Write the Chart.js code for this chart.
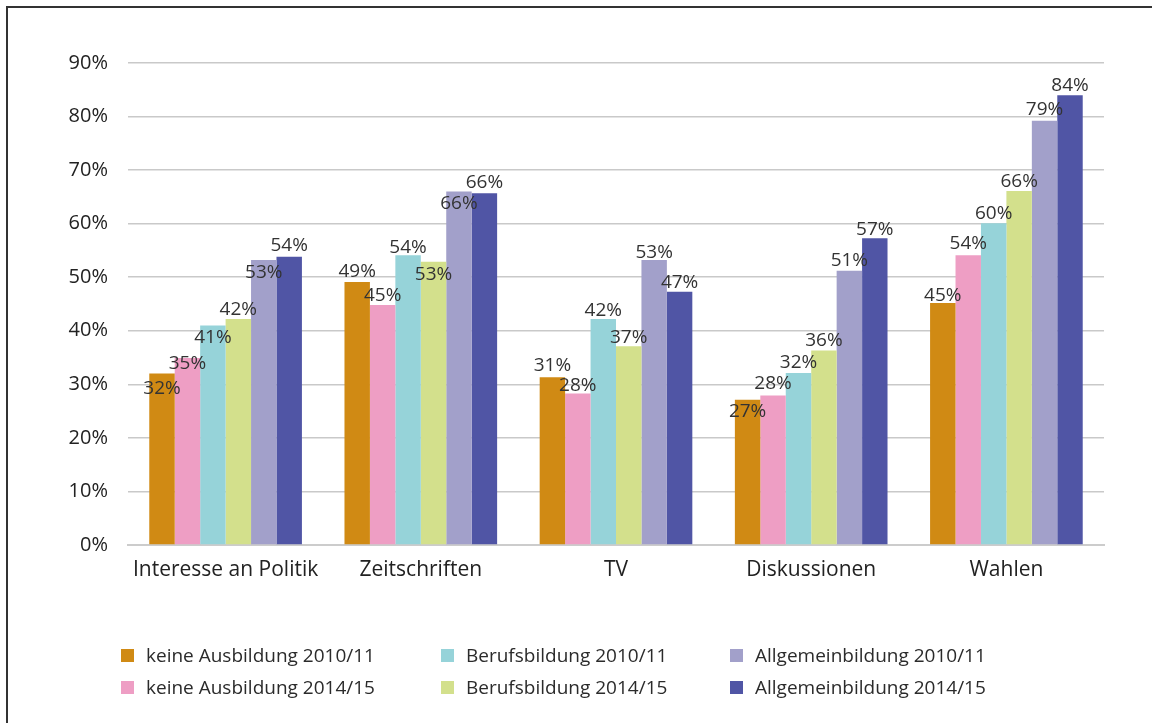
<!DOCTYPE html>
<html>
<head>
<meta charset="utf-8">
<script src="https://cdn.jsdelivr.net/npm/chart.js@4"></script>
<style>
    body { margin: 0; background: #fff; font-family: "Open Sans", sans-serif; }
    #wrap { position: relative; width: 1152px; height: 723px; overflow: hidden; }
    #frame { position: absolute; left: 6px; top: 6px; width: 1200px; height: 800px; border: 2px solid #333; }
    #legend { position: absolute; left: 121px; top: 642px; }
    .item { position: absolute; white-space: nowrap; font-size: 19px; color: #2b2b2b; line-height: 26px; }
    .item span.box { position: absolute; left: 0; top: 7px; width: 13px; height: 13px; }
    .item span.txt { position: absolute; left: 25px; top: 0; }
</style>
</head>
<body>
<div id="wrap">
    <div id="frame"></div>
    <canvas id="chart" width="1152" height="723"></canvas>
    <div id="legend"></div>
</div>
<script>
const categories = ['Interesse an Politik', 'Zeitschriften', 'TV', 'Diskussionen', 'Wahlen'];

const keine2010 = [32.0, 49.1, 31.3, 27.1, 45.2];
const keine2014 = [34.9, 44.8, 28.3, 27.9, 54.1];
const beruf2010 = [41.0, 54.1, 42.2, 32.1, 60.1];
const beruf2014 = [42.2, 52.9, 37.1, 36.3, 66.1];
const allg2010 = [53.2, 66.0, 53.2, 51.2, 79.2];
const allg2014 = [53.8, 65.7, 47.3, 57.3, 84.0];

const seriesNames = ['keine Ausbildung 2010/11', 'keine Ausbildung 2014/15', 'Berufsbildung 2010/11',
    'Berufsbildung 2014/15', 'Allgemeinbildung 2010/11', 'Allgemeinbildung 2014/15'];

const yTicks = [0, 10, 20, 30, 40, 50, 60, 70, 80, 90];

// styling
const colors = ['#D08A14', '#EE9EC4', '#96D3D9', '#D3E08C', '#A2A0CA', '#5055A5'];
// vertical offset of each value label from the bar top (px), like in the original
const labelShift = [
    [15, -10, -12, 12, -7],
    [6, -9, -8, -12, -12],
    [12, -8, -8, -10, -10],
    [-9, 13, -9, -10, -9],
    [13, 12, -7, -10, -11],
    [-11, -11, -9, -9, -10]
];

const series = [keine2010, keine2014, beruf2010, beruf2014, allg2010, allg2014];

const valueLabels = {
    id: 'valueLabels',
    afterDatasetsDraw(chart) {
        const ctx = chart.ctx;
        ctx.save();
        ctx.font = '19px "Open Sans"';
        ctx.fillStyle = '#333';
        ctx.textAlign = 'center';
        ctx.textBaseline = 'middle';
        chart.data.datasets.forEach((ds, i) => {
            chart.getDatasetMeta(i).data.forEach((bar, j) => {
                ctx.fillText(Math.round(ds.data[j]) + '%', bar.x, bar.y + labelShift[i][j]);
            });
        });
        ctx.restore();
    }
};

const chart = new Chart(document.getElementById('chart'), {
    type: 'bar',
    data: {
        labels: categories,
        datasets: series.map((s, i) => ({
            label: seriesNames[i],
            data: s,
            backgroundColor: colors[i],
            borderWidth: 0,
            categoryPercentage: 0.782,
            barPercentage: 1.0
        }))
    },
    options: {
        responsive: false,
        animation: false,
        layout: { padding: { left: 0, right: 48, top: 63, bottom: 0 } },
        plugins: { legend: { display: false }, tooltip: { enabled: false } },
        scales: {
            x: {
                grid: { display: false, drawTicks: false },
                border: { color: '#cccccc', width: 2 },
                ticks: { color: '#222', font: { family: 'Open Sans', size: 21 }, padding: 12, maxRotation: 0 },
                afterFit(scale) { scale.height = 178; }
            },
            y: {
                min: 0,
                max: 90,
                afterBuildTicks(scale) { scale.ticks = yTicks.map(v => ({ value: v })); },
                grid: { color: '#c9c9c9', lineWidth: 1.5, drawTicks: false },
                border: { display: false },
                ticks: {
                    color: '#222',
                    font: { family: 'Open Sans', size: 20 },
                    padding: 20,
                    callback: v => v + '%'
                },
                afterFit(scale) { scale.width = 128; }
            }
        }
    },
    plugins: [valueLabels]
});

// legend, column-wise like the original
const legend = document.getElementById('legend');
const colX = [0, 320, 609];
chart.data.datasets.forEach((ds, i) => {
    const item = document.createElement('div');
    item.className = 'item';
    item.style.left = colX[Math.floor(i / 2)] + 'px';
    item.style.top = (i % 2) * 32 + 'px';
    item.innerHTML = '<span class="box" style="background:' + ds.backgroundColor + '"></span><span class="txt">' + ds.label + '</span>';
    legend.appendChild(item);
});
</script>
</body>
</html>
